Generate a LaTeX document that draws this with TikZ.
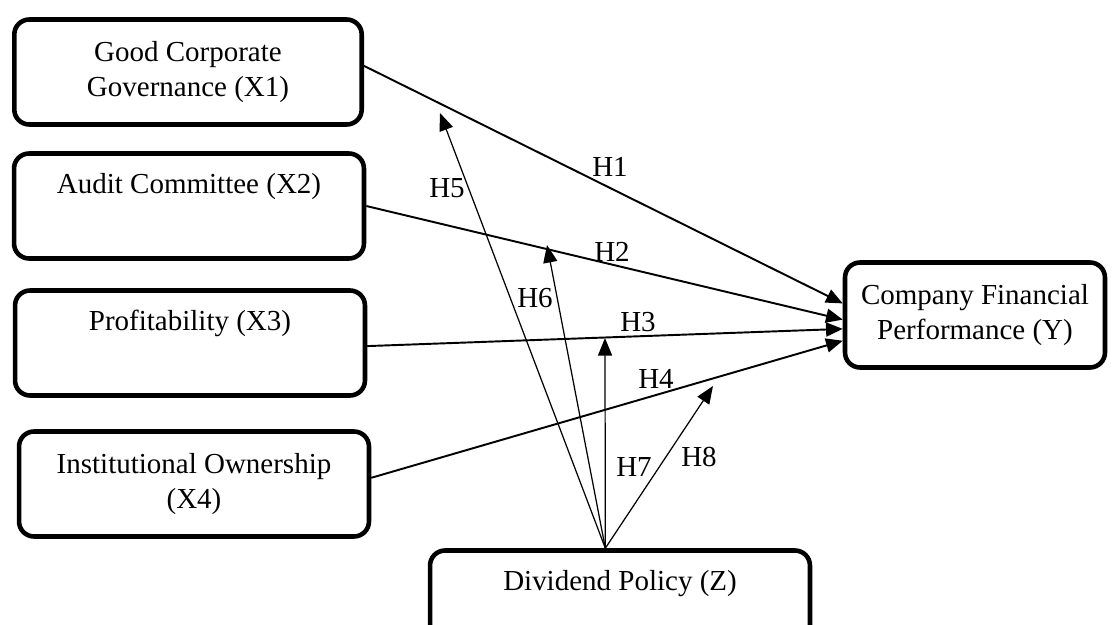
\documentclass[tikz,border=0pt]{standalone}
\usepackage{fontspec}
\setmainfont{Liberation Serif}
\usetikzlibrary{arrows.meta}

\begin{document}
\begin{tikzpicture}[x=0.02cm, y=-0.02cm, font=\fontsize{16.5pt}{20pt}\selectfont,
    box/.style={draw, line width=2.6pt, rounded corners=0.3cm, align=center, minimum height=2.1cm},
    path1/.style={line width=1.1pt, -{Triangle[length=9.5pt,width=8pt]}},
    path2/.style={line width=0.7pt, -{Triangle[length=10pt,width=8pt]}}]
    \useasboundingbox (0,0) rectangle (1113,625);
    \clip (0,0) rectangle (1113,625);
    \node[box, minimum width=6.95cm] (x1) at (188,72) {Good Corporate\\Governance (X1)};
    \node[box, minimum width=7cm] (x2) at (189,206) {Audit Committee (X2)\\\strut};
    \node[box, minimum width=7cm] (x3) at (190,343) {Profitability (X3)\\\strut};
    \node[box, minimum width=7cm] (x4) at (194,484) {Institutional Ownership\\(X4)};
    \node[box, minimum width=5.2cm] (y) at (975,315) {Company Financial\\Performance (Y)};
    \node[box, minimum width=7.6cm] (z) at (620,603) {Dividend Policy (Z)\\\strut};
    % moderation points
    \coordinate (m5) at (440,113);
    \coordinate (m6) at (547,245);
    \coordinate (m7) at (605,338);
    \coordinate (m8) at (713,386);
    \path[path1] (x1.2) edge (y.175);
    \path[path1] (x2.east) edge (y.182);
    \path[path1] (x3.359) edge (y.186);
    \path[path1] (x4.2) edge (y.191.5);
    \path[path2] (z.105.5) edge (m5);
    \path[path2] (z.105.5) edge (m6);
    \path[path2] (z.105.5) edge (m7);
    \path[path2] (z.105.5) edge (m8);
    \node (h1) at (610,167) {H1};
    \node (h2) at (612,252) {H2};
    \node (h3) at (638,322) {H3};
    \node (h4) at (656,379) {H4};
    \node (h5) at (447,188) {H5};
    \node (h6) at (535,298) {H6};
    \node (h7) at (634,467) {H7};
    \node (h8) at (699,457) {H8};
\end{tikzpicture}
\end{document}
